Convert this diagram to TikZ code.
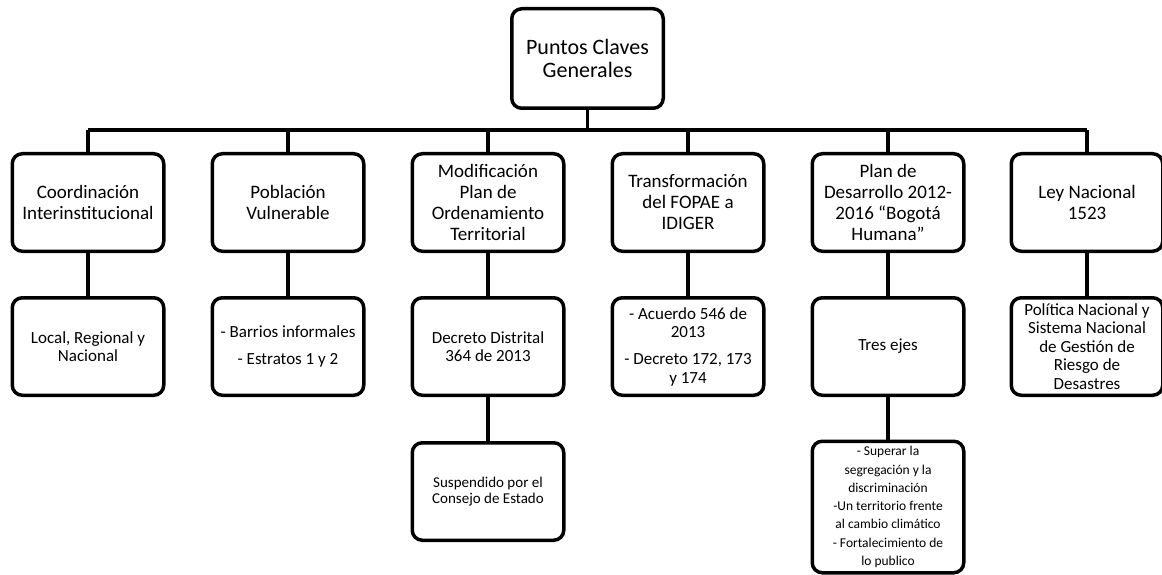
\documentclass[tikz,border=0pt]{standalone}
\usepackage{fontspec}
\setmainfont{Carlito}
\usepackage{tikz}

\tikzset{
  caja/.style={draw, line width=3.5pt, rounded corners=10pt, align=center,
    minimum width=151.5pt, minimum height=97.5pt, inner sep=1pt},
  raiz/.style={caja, minimum height=99.5pt, font=\fontsize{22}{23.5}\selectfont},
  tema/.style={caja, font=\fontsize{19}{21}\selectfont},
  detalle/.style={caja, font=\fontsize{17}{18.5}\selectfont},
  nota/.style={caja, font=\fontsize{15}{16.5}\selectfont},
  enlace/.style={line width=3.5pt},
}

\begin{document}
\begin{tikzpicture}[x=1pt, y=-1pt]
\useasboundingbox (0,0) rectangle (1162,575);

% Nodo principal
\node[raiz] (raiz) at (587.5,58.5) {Puntos Claves\\Generales};
\coordinate (bus) at (0,130);

% Primer nivel
\node[tema] (c1) at (88,202.5)   {Coordinación\\Interinstitucional};
\node[tema] (c2) at (288,202.5)  {Población\\Vulnerable};
\node[tema] (c3) at (488,202.5)  {Modificación\\Plan de\\Ordenamiento\\Territorial};
\node[tema] (c4) at (688,202.5)  {Transformación\\del FOPAE a\\IDIGER};
\node[tema] (c5) at (888,202.5)  {Plan de\\Desarrollo 2012-\\2016 “Bogotá\\Humana”};
\node[tema] (c6) at (1087,202.5) {Ley Nacional\\1523};

% Segundo nivel
\node[detalle] (d1) at (88,346.5)   {Local, Regional y\\Nacional};
\node[detalle] (d2) at (288,346.5)  {- Barrios informales\\[8.5pt]- Estratos 1 y 2};
\node[detalle] (d3) at (488,346.5)  {Decreto Distrital\\364 de 2013};
\node[detalle] (d4) at (688,346.5)  {- Acuerdo 546 de\\2013\\[8.5pt]- Decreto 172, 173\\y 174};
\node[detalle] (d5) at (888,346.5)  {Tres ejes};
\node[detalle] (d6) at (1087,346.5) {Política Nacional y\\Sistema Nacional\\de Gestión de\\Riesgo de\\Desastres};

% Tercer nivel
\node[nota] (e3) at (488,491.5) {Suspendido por el\\Consejo de Estado};
\node[detalle, minimum height=131.5pt, font=\fontsize{13.5}{18.3}\selectfont] (e5) at (888,507)
  {- Superar la\\segregación y la\\discriminación\\-Un territorio frente\\al cambio climático\\- Fortalecimiento de\\lo publico};

% Conectores
\draw[enlace] (raiz.south) -- (raiz.south |- bus);
\draw[enlace] (c1.north |- bus) -- (c6.north |- bus);
\foreach \n in {1,...,6} {
  \draw[enlace] (c\n.north) -- (c\n.north |- bus);
  \draw[enlace] (c\n.south) -- (d\n.north);
}
\draw[enlace] (d3.south) -- (e3.north);
\draw[enlace] (d5.south) -- (e5.north);
\end{tikzpicture}
\end{document}
